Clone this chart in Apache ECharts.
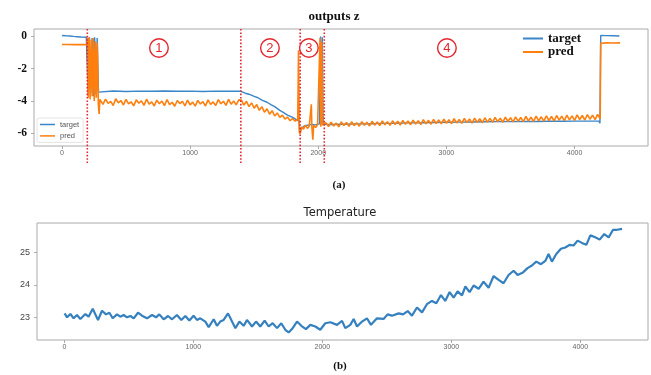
<!DOCTYPE html>
<html><head><meta charset="utf-8">
<script src="https://cdn.jsdelivr.net/npm/echarts@6/dist/echarts.min.js"></script>
<style>html,body{margin:0;padding:0;background:#fff}#c{width:651px;height:375px}</style>
</head><body><div id="c"></div>
<script>
// ---- data ----
const xTicks = [0, 1000, 2000, 3000, 4000];
const zTicks = [-6, -4, -2, 0];
const tempTicks = [23, 24, 25];
const regionBounds = [198, 1396, 1859, 2047];
const regionLabels = ['1', '2', '3', '4'];
const regionLabelX = [757, 1623, 1927, 3004];

const targetPts = [
 [0,0.06],[30,0.04],[60,0.03],[90,0.0],[120,-0.02],[150,-0.04],[190,-0.05],
 [200,-0.05],[205,-3.6],[215,-0.05],[225,-3.5],[235,-0.1],[245,-3.7],[255,-0.05],[265,-3.6],[275,-0.1],[285,-3.45],
 [300,-3.40],[400,-3.38],[500,-3.41],[600,-3.39],[700,-3.40],[800,-3.38],[900,-3.40],[1000,-3.39],[1100,-3.41],[1200,-3.39],[1300,-3.40],[1396,-3.40],
 [1430,-3.52],[1460,-3.58],[1500,-3.72],[1530,-3.80],[1560,-3.95],[1600,-4.08],[1630,-4.22],[1660,-4.35],[1700,-4.58],[1730,-4.72],[1760,-4.88],[1800,-5.02],[1830,-5.15],[1850,-5.25],
 [1856,-5.95],[1870,-5.7],[1890,-5.55],[1920,-5.5],[1950,-5.45],[1980,-5.48],[2010,-5.42],[2018,0.0],[2024,-5.4],[2032,-0.05],[2038,-5.45],[2046,-5.45],
 [2100,-5.46],[2200,-5.44],[2300,-5.42],[2400,-5.41],[2500,-5.39],[2600,-5.38],[2700,-5.36],[2800,-5.35],[2900,-5.33],[3000,-5.32],[3100,-5.31],[3200,-5.30],[3300,-5.29],[3400,-5.28],[3500,-5.28],[3600,-5.27],[3700,-5.27],[3800,-5.26],[3900,-5.26],[4000,-5.25],[4100,-5.25],[4190,-5.25],[4198,-5.38],
 [4204,0.06],[4250,0.05],[4300,0.04],[4350,0.03]
];

const predPts = [
 [0,-0.50],[50,-0.50],[100,-0.51],[150,-0.50],[195,-0.51],
 [200,-0.1],[205,-3.8],[212,-0.05],[220,-3.9],[228,-0.2],[236,-3.7],[244,-0.1],[252,-4.0],[260,-0.3],[268,-3.8],[276,-0.4],[284,-4.2],[290,-4.8],[296,-3.9],
 [300,-3.92],[320,-4.21],[340,-3.88],[360,-4.15],[380,-4.02],[400,-4.28],[420,-3.86],[440,-4.12],[460,-3.97],[480,-4.25],[500,-3.90],[520,-4.18],[540,-4.05],[560,-4.30],[580,-3.93],[600,-4.14],[620,-3.99],[640,-4.27],[660,-3.89],[680,-4.20],[700,-4.06],[720,-4.31],[740,-3.95],[760,-4.17],[780,-4.01],[800,-4.29],[820,-3.91],[840,-4.22],[860,-4.08],[880,-4.33],[900,-3.97],[920,-4.16],[940,-4.03],[960,-4.30],[980,-3.94],[1000,-4.24],[1020,-4.07],[1040,-4.32],[1060,-3.96],[1080,-4.19],[1100,-4.04],[1120,-4.31],[1140,-3.93],[1160,-4.21],[1180,-4.06],[1200,-4.28],[1220,-3.92],[1240,-4.17],[1260,-4.02],[1280,-4.27],[1300,-3.90],[1320,-4.20],[1340,-4.00],[1360,-4.24],[1380,-3.93],
 [1400,-3.95],[1420,-4.25],[1440,-4.02],[1460,-4.35],[1480,-4.12],[1500,-4.45],[1520,-4.22],[1540,-4.58],[1560,-4.35],[1580,-4.70],[1600,-4.48],[1620,-4.82],[1640,-4.60],[1660,-4.93],[1680,-4.74],[1700,-5.02],[1720,-4.88],[1740,-5.12],[1760,-5.00],[1780,-5.22],[1800,-5.10],[1820,-5.25],[1840,-5.15],
 [1846,-0.85],[1852,-5.9],[1858,-6.05],[1870,-5.6],[1885,-5.75],[1900,-5.5],[1915,-5.7],[1930,-5.55],[1942,-5.6],[1946,-4.2],[1950,-5.6],[1958,-6.4],[1964,-5.5],[1980,-5.65],[1995,-5.45],[2008,-5.55],[2014,-0.1],[2020,-5.6],[2027,-0.35],[2034,-5.5],[2044,-5.45],
 [2060,-5.34],[2080,-5.58],[2100,-5.31],[2120,-5.55],[2140,-5.37],[2160,-5.60],[2180,-5.30],[2200,-5.52],[2220,-5.33],[2240,-5.57],[2260,-5.29],[2280,-5.53],[2300,-5.35],[2320,-5.56],[2340,-5.28],[2360,-5.50],[2380,-5.32],[2400,-5.55],[2420,-5.26],[2440,-5.50],[2460,-5.30],[2480,-5.52],[2500,-5.24],[2520,-5.48],[2540,-5.28],[2560,-5.51],[2580,-5.23],[2600,-5.46],[2620,-5.26],[2640,-5.49],[2660,-5.20],[2680,-5.45],[2700,-5.24],[2720,-5.47],[2740,-5.19],[2760,-5.43],[2780,-5.22],[2800,-5.46],[2820,-5.16],[2840,-5.42],[2860,-5.20],[2880,-5.44],[2900,-5.14],[2920,-5.40],[2940,-5.18],[2960,-5.42],[2980,-5.12],[3000,-5.38],[3020,-5.16],[3040,-5.41],[3060,-5.10],[3080,-5.36],[3100,-5.14],[3120,-5.39],[3140,-5.08],[3160,-5.34],[3180,-5.12],[3200,-5.37],[3220,-5.06],[3240,-5.33],[3260,-5.10],[3280,-5.35],[3300,-5.04],[3320,-5.31],[3340,-5.08],[3360,-5.33],[3380,-5.02],[3400,-5.29],[3420,-5.06],[3440,-5.32],[3460,-5.00],[3480,-5.27],[3500,-5.04],[3520,-5.30],[3540,-4.98],[3560,-5.26],[3580,-5.02],[3600,-5.28],[3620,-4.96],[3640,-5.24],[3660,-5.00],[3680,-5.27],[3700,-4.94],[3720,-5.23],[3740,-4.98],[3760,-5.25],[3780,-4.92],[3800,-5.21],[3820,-4.96],[3840,-5.24],[3860,-4.90],[3880,-5.19],[3900,-4.94],[3920,-5.22],[3940,-4.88],[3960,-5.17],[3980,-4.92],[4000,-5.20],[4020,-4.86],[4040,-5.15],[4060,-4.90],[4080,-5.18],[4100,-4.84],[4120,-5.13],[4140,-4.88],[4160,-5.16],[4180,-4.83],[4200,-5.10],
 [4204,-0.42],[4250,-0.40],[4300,-0.41],[4355,-0.40]
];

const tempPts = [
 [2,23.13],[21,23.01],[47,23.11],[72,22.98],[98,23.08],[124,22.96],[163,23.11],[188,23.03],[220,23.27],[235,23.24],[261,22.93],[292,23.21],[323,23.10],[349,23.15],[375,22.98],[408,23.10],[434,23.03],[460,23.08],[486,23.01],[512,23.05],[538,22.98],[571,23.15],[602,23.06],[641,22.98],[680,23.08],[711,23.01],[736,23.10],[770,22.95],[804,23.05],[835,22.95],[873,23.08],[907,22.93],[938,23.05],[969,22.91],[1002,23.06],[1028,22.93],[1054,22.98],[1093,22.88],[1119,22.71],[1158,22.95],[1183,22.75],[1209,22.88],[1235,22.93],[1269,23.13],[1300,22.88],[1326,22.68],[1357,22.88],[1390,22.75],[1416,22.93],[1455,22.73],[1486,22.88],[1519,22.73],[1553,22.91],[1584,22.73],[1615,22.83],[1649,22.68],[1682,22.83],[1713,22.63],[1739,22.55],[1770,22.68],[1804,22.88],[1837,22.75],[1873,22.65],[1907,22.78],[1946,22.73],[1984,22.63],[2023,22.83],[2062,22.86],[2114,22.78],[2153,22.90],[2178,22.68],[2217,22.78],[2243,22.96],[2269,22.73],[2308,22.88],[2346,22.98],[2377,22.78],[2424,22.98],[2475,22.96],[2506,23.10],[2540,23.06],[2592,23.13],[2626,23.10],[2662,23.20],[2695,23.06],[2734,23.31],[2773,23.16],[2811,23.41],[2850,23.51],[2884,23.44],[2920,23.69],[2953,23.51],[2987,23.78],[3018,23.61],[3049,23.80],[3083,23.68],[3109,23.95],[3142,23.78],[3173,23.98],[3212,23.88],[3250,24.10],[3289,23.91],[3328,24.27],[3367,24.15],[3405,24.05],[3444,24.30],[3483,24.43],[3514,24.30],[3556,24.38],[3591,24.51],[3625,24.59],[3659,24.71],[3695,24.63],[3729,24.73],[3754,24.94],[3780,24.71],[3814,24.94],[3850,25.10],[3884,25.14],[3917,25.22],[3948,25.20],[3979,25.35],[4013,25.28],[4047,25.22],[4078,25.51],[4116,25.45],[4150,25.38],[4186,25.55],[4220,25.45],[4254,25.68],[4285,25.68],[4324,25.71]
];

// ---- chart ----
const BLUE = '#3a86c8', ORANGE = '#ff7f0e', RED = '#e3262e';
const chart = echarts.init(document.getElementById('c'), null, {renderer: 'canvas'});
const xLabel = {fontSize: 7, color: '#666', fontFamily: 'Liberation Sans', margin: 4, customValues: xTicks, formatter: v => String(v)};
const tick = {show: true, length: 3, lineStyle: {color: '#999', width: 0.8}};
const noLine = {show: false, onZero: false};
chart.setOption({
  animation: false,
  backgroundColor: '#fff',
  grid: [
    {left: 34, right: 3, top: 29, height: 117, show: true, borderColor: '#aaa', borderWidth: 1},
    {left: 37, right: 3, top: 223, height: 117, show: true, borderColor: '#aaa', borderWidth: 1}
  ],
  xAxis: [
    {type: 'value', gridIndex: 0, position: 'bottom', min: -218, max: 4573, axisLine: noLine, splitLine: {show: false},
     axisTick: Object.assign({customValues: xTicks}, tick), axisLabel: xLabel},
    {type: 'value', gridIndex: 1, position: 'bottom', min: -212, max: 4525, axisLine: noLine, splitLine: {show: false},
     axisTick: Object.assign({customValues: xTicks}, tick), axisLabel: xLabel}
  ],
  yAxis: [
    {type: 'value', gridIndex: 0, position: 'left', min: -6.79, max: 0.46, axisLine: noLine, splitLine: {show: false},
     axisTick: Object.assign({customValues: zTicks}, tick),
     axisLabel: {customValues: zTicks, fontSize: 11.5, fontWeight: 'bold', fontFamily: 'Liberation Serif', color: '#111', margin: 7}},
    {type: 'value', gridIndex: 1, position: 'left', min: 22.318, max: 25.887, axisLine: noLine, splitLine: {show: false},
     axisTick: Object.assign({customValues: tempTicks}, tick),
     axisLabel: {customValues: tempTicks, fontSize: 9, fontFamily: 'Liberation Sans', color: '#444', margin: 7}}
  ],
  legend: [
    {data: ['target', 'pred'], orient: 'vertical', left: 521, top: 30, icon: 'rect', itemWidth: 20, itemHeight: 2,
     itemGap: 0.5, padding: 2, textStyle: {fontSize: 13, fontWeight: 'bold', fontFamily: 'Liberation Serif', color: '#111', lineHeight: 13}},
    {data: ['target', 'pred'], orient: 'vertical', left: 37, top: 118, icon: 'rect', itemWidth: 15, itemHeight: 1.5,
     itemGap: 2.4, padding: [2, 4, 2, 3], backgroundColor: '#fff', borderColor: '#ddd', borderWidth: 0.8, borderRadius: 2,
     textStyle: {fontSize: 7.5, fontFamily: 'Liberation Sans', color: '#555', lineHeight: 9}}
  ],
  series: [
    {name: 'target', type: 'line', xAxisIndex: 0, yAxisIndex: 0, data: targetPts, showSymbol: false, color: BLUE,
     lineStyle: {width: 1.4, color: BLUE}},
    {name: 'pred', type: 'line', xAxisIndex: 0, yAxisIndex: 0, data: predPts, showSymbol: false, color: ORANGE,
     lineStyle: {width: 1.6, color: ORANGE}},
    {name: 'Temperature', type: 'line', xAxisIndex: 1, yAxisIndex: 1, data: tempPts, showSymbol: false,
     lineStyle: {width: 2.2, color: '#3580bf'}}
  ]
});

const g = [];
regionBounds.forEach(b => {
  const x = chart.convertToPixel({gridIndex: 0}, [b, 0])[0];
  g.push({type: 'line', z: 100, shape: {x1: x, y1: 29, x2: x, y2: 163},
    style: {stroke: RED, lineWidth: 1.6, lineDash: [1.6, 1.8]}});
});
regionLabelX.forEach((v, i) => {
  const x = chart.convertToPixel({gridIndex: 0}, [v, 0])[0];
  g.push({type: 'circle', z: 100, shape: {cx: x, cy: 48, r: 9.3}, style: {fill: '#fff', stroke: RED, lineWidth: 1.4}});
  g.push({type: 'text', z: 101, x: x, y: 48.5, style: {text: regionLabels[i], fill: RED, font: '13px "Liberation Sans"', align: 'center', verticalAlign: 'middle'}});
});
g.push({type: 'text', x: 334, y: 17, style: {text: 'outputs z', fill: '#111', font: 'bold 13px "Liberation Serif"', align: 'center', verticalAlign: 'middle'}});
g.push({type: 'text', x: 339, y: 185, style: {text: '(a)', fill: '#111', font: 'bold 11px "Liberation Serif"', align: 'center', verticalAlign: 'middle'}});
g.push({type: 'text', x: 340, y: 213, style: {text: 'Temperature', fill: '#222', font: '11.5px "DejaVu Sans"', align: 'center', verticalAlign: 'middle'}});
g.push({type: 'text', x: 340, y: 366, style: {text: '(b)', fill: '#111', font: 'bold 11px "Liberation Serif"', align: 'center', verticalAlign: 'middle'}});
chart.setOption({graphic: g});
</script>
</body></html>
